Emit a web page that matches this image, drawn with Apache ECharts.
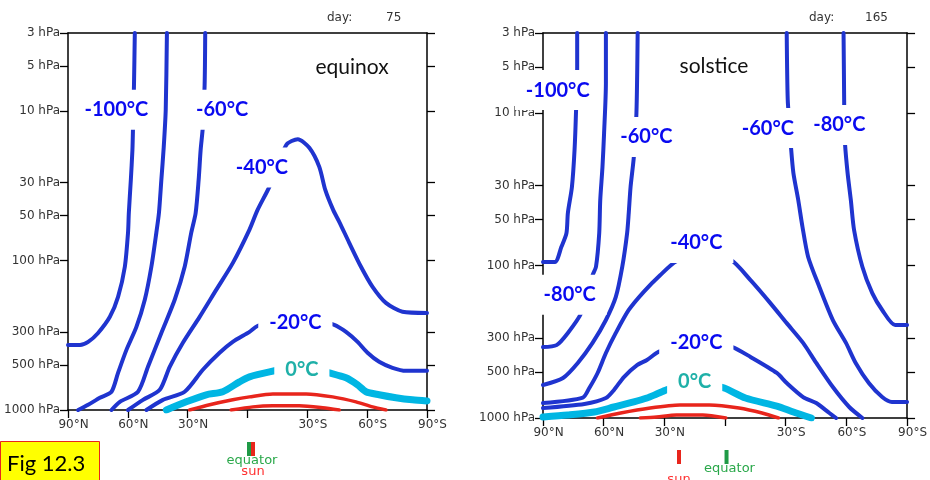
<!DOCTYPE html>
<html><head><meta charset="utf-8">
<script src="https://cdn.jsdelivr.net/npm/echarts@6/dist/echarts.min.js"></script>
<style>html,body{margin:0;padding:0;background:#fff}#c{width:930px;height:480px}</style>
</head><body><div id="c"></div>
<script>
// ---------- tick values ----------
const latTicks = [90, 60, 30, 0, -30, -60, -90];
const pTicks = [3, 5, 10, 30, 50, 100, 300, 500, 1000];

// ---------- EQUINOX (day 75) : [latitude (°N +), pressure hPa] ----------
const eqDay = 75;
const eqSunLat = 0;
const eqM100 = [[56.5,3],[56.9,6.5],[57.4,12.8],[57.7,18.2],[58.5,28.9],[59.5,48],[59.9,65],[61.5,110],[64.9,175],[69,238],[74.9,305],[79.9,350],[84,367],[90,367]];
const eqM80 = [[40.4,3],[41,9.8],[42,17.4],[43.2,28.9],[44.4,48],[45.7,65],[48.2,110],[51.5,183],[55.7,278],[60.7,396],[64.9,564],[68.2,755],[74,828],[79.9,923],[84.9,1000]];
const eqM60 = [[21.2,3],[21.5,6.7],[22.4,12.8],[23.5,18.2],[24.5,28.9],[26,48],[28.2,65],[31.5,110],[36.5,183],[43.2,305],[49.9,514],[54.9,755],[64,882],[68.2,1000]];
const eqM40 = [[59.9,1000],[52.4,855],[44,733],[39,514],[32.4,355],[24,238],[15.7,157],[7.4,104],[-1,62],[-5,46],[-11,32],[-19.5,16.8],[-25.2,15.4],[-31,17.6],[-36,23.6],[-39,33.7],[-43,46],[-46,55],[-51,76],[-56.9,110],[-62.7,150],[-69.4,192],[-77.7,220],[-90,224]];
const eqM20 = [[50.7,1000],[42.4,855],[31.5,755],[22.4,538],[14,414],[7.4,350],[-1,300],[-5,274],[-15,250],[-24,242],[-33,250],[-43.5,269],[-49.4,300],[-55.2,350],[-60.2,414],[-66,476],[-72.7,522],[-79.4,547],[-90,547]];
const eqZero = [[40.7,1000],[30.7,882],[20.7,791],[12.4,755],[4,648],[-1,600],[-11,556],[-20,530],[-27,525],[-34,535],[-41,564],[-49.4,609],[-55.2,679],[-59.4,755],[-66,791],[-74.4,828],[-82.7,855],[-90,869]];
const eqRedOuter = [[29,1000],[19,923],[7.4,855],[-1,817],[-12.7,780],[-29.4,780],[-42.7,817],[-54.4,882],[-62.7,953],[-69.4,1000]];
const eqRedInner = [[8.2,1000],[-2.7,953],[-12.7,938],[-26,938],[-37.7,966],[-46,1000]];
const eqLabelNames = ['-100°C', '-60°C', '-40°C', '-20°C', '0°C'];
const eqLabelPos = [[65.75,9.8],[12.75,9.8],[-7.25,23.8],[-24,259],[-27.25,534]];

// ---------- SOLSTICE (day 165) ----------
const soDay = 165;
const soSunLat = 23.5;
const soM100 = [[73.1,3],[73.1,5],[73.6,9.2],[74.4,17.5],[75.7,30.6],[77.7,45.3],[78.4,61.4],[80.9,75.6],[84.1,95],[90,95]];
const soM80N = [[58.9,3],[58.9,6.4],[59.8,13.6],[60.6,22.7],[61.7,37.3],[62.2,61.4],[63.8,102],[65.5,116],[71.1,205],[77.7,277],[83.3,333],[90,343]];
const soM60N = [[43.2,3],[43.8,10],[45.1,19.5],[46.7,30.6],[47.6,45.3],[48.4,61.4],[50.8,102],[54,161],[58.9,228],[65.5,322],[72.8,436],[80.1,547],[90,608]];
const soM40 = [[90,798],[70.3,735],[67.1,636],[63,507],[58.9,375],[54,277],[47.6,196],[40.2,149],[32.1,116],[24,94],[11,84],[-2.8,92],[-12.6,125],[-22.3,176],[-30.5,239],[-38.6,322],[-45.1,436],[-53.3,627],[-61.4,847],[-67.9,1000]];
const soM20 = [[90,860],[69.5,809],[58.9,740],[54.9,655],[50,539],[43.5,450],[38.6,417],[32.9,369],[22,335],[14,326],[4,332],[-3.7,343],[-12.6,398],[-25.6,507],[-30.5,590],[-38.6,729],[-45.1,798],[-51.6,927],[-54.9,1000]];
const soZero = [[90,984],[77.8,956],[64.6,914],[54.9,847],[45.1,785],[38.6,740],[33.8,697],[28.9,655],[21,615],[14,605],[7,612],[0.4,636],[-10.1,740],[-25.6,835],[-33.8,914],[-42.7,1000]];
const soRedOuter = [[63,1000],[51.6,927],[37,860],[22.3,822],[7.7,822],[-6.9,860],[-18.3,927],[-26.4,1000]];
const soRedInner = [[41.9,1000],[33.8,984],[24,956],[11,956],[-0.4,1000]];
const soM60S = [[-30.5,3],[-31,8.2],[-32,12.5],[-32.6,16.7],[-33.8,24.8],[-36.2,37.3],[-38.3,56],[-41.1,88],[-46.7,139],[-53.3,228],[-59.8,322],[-64.6,436],[-71.1,590],[-77.7,729],[-82.5,785],[-90,785]];
const soM80S = [[-58.6,3],[-58.9,8.2],[-59,12],[-59.3,15.8],[-60.6,24.8],[-62.2,37.3],[-63.8,58.6],[-67.9,102],[-72.8,152],[-77.7,196],[-84.1,246],[-90,246]];
const soLabelNames = ['-100°C', '-60°C', '-60°C', '-80°C', '-40°C', '-80°C', '-20°C', '0°C'];
const soLabelPos = [[82.7,7.1],[38.9,14.4],[-21.2,12.6],[-56.5,12.0],[14.2,71.3],[76.8,156],[14.2,322],[15,578]];

// ---------- styles ----------
const BLUE = '#1f34cf', LABEL_BLUE = '#0a0af0', CYAN = '#00b6e3', TEAL = '#1fb0a8', RED = '#e8251c', GREEN = '#1f9a46';
const AXIS_FONT = 'DejaVu Sans';

const toXY = arr => arr.map(d => [d[0], Math.log10(d[1])]);
const logTicks = pTicks.map(p => Math.log10(p));

function xAxesFor(gi) {
  return [
    { type: 'value', gridIndex: gi, min: -90, max: 90, interval: 30, inverse: true, position: 'bottom',
      axisLine: { show: true, onZero: false, lineStyle: { color: '#000', width: 1.5 } },
      axisTick: { show: true, length: 8, lineStyle: { color: '#000', width: 1.3 } },
      axisLabel: { show: true, margin: 9, fontFamily: AXIS_FONT, fontSize: 12, color: '#333', padding: [0, 0, 0, 11],
        formatter: v => v === 0 ? '' : Math.abs(v) + '°' + (v > 0 ? 'N' : 'S') },
      splitLine: { show: false } },
    { type: 'value', gridIndex: gi, min: -90, max: 90, inverse: true, position: 'top',
      axisLine: { show: true, onZero: false, lineStyle: { color: '#000', width: 1.5 } },
      axisTick: { show: false }, axisLabel: { show: false }, splitLine: { show: false } }
  ];
}
function yAxesFor(gi) {
  return [
    { type: 'value', gridIndex: gi, min: Math.log10(3), max: 3, inverse: true, position: 'left',
      axisLine: { show: true, onZero: false, lineStyle: { color: '#000', width: 1.5 } },
      axisTick: { show: true, length: 8, customValues: logTicks, lineStyle: { color: '#000', width: 1.3 } },
      axisLabel: { show: true, customValues: logTicks, margin: 8, fontFamily: AXIS_FONT, fontSize: 12, color: '#333',
        formatter: v => Math.round(Math.pow(10, v)) + ' hPa' },
      splitLine: { show: false } },
    { type: 'value', gridIndex: gi, min: Math.log10(3), max: 3, inverse: true, position: 'right',
      axisLine: { show: true, onZero: false, lineStyle: { color: '#000', width: 1.5 } },
      axisTick: { show: true, length: 8, customValues: logTicks, lineStyle: { color: '#000', width: 1.3 } },
      axisLabel: { show: false }, splitLine: { show: false } }
  ];
}

function line(gi, data, color, width) {
  return { type: 'line', xAxisIndex: gi * 2, yAxisIndex: gi * 2, data: toXY(data), symbol: 'none',
    smooth: 0.25, lineStyle: { color: color, width: width, cap: 'round', join: 'round' }, z: 3, silent: true, animation: false };
}
function labels(gi, names, pos) {
  return { type: 'scatter', xAxisIndex: gi * 2, yAxisIndex: gi * 2, symbolSize: 1, silent: true, animation: false, z: 20,
    itemStyle: { color: 'rgba(255,255,255,0)', opacity: 1 },
    data: names.map((n, i) => ({ name: n, value: [pos[i][0], Math.log10(pos[i][1])],
      label: { color: n === '0°C' ? TEAL : LABEL_BLUE } })),
    label: { show: true, position: 'inside', formatter: '{b}', fontFamily: 'Lato', fontWeight: 'bold', fontSize: 20,
      lineHeight: 20, backgroundColor: '#fff', padding: [10, 11], opacity: 1 } };
}

const series = [
  line(0, eqM100, BLUE, 4), line(0, eqM80, BLUE, 4), line(0, eqM60, BLUE, 4), line(0, eqM40, BLUE, 4), line(0, eqM20, BLUE, 4),
  line(0, eqZero, CYAN, 7), line(0, eqRedOuter, RED, 3.5), line(0, eqRedInner, RED, 3.5),
  labels(0, eqLabelNames, eqLabelPos),
  line(1, soM100, BLUE, 4), line(1, soM80N, BLUE, 4), line(1, soM60N, BLUE, 4), line(1, soM40, BLUE, 4), line(1, soM20, BLUE, 4),
  line(1, soM60S, BLUE, 4), line(1, soM80S, BLUE, 4),
  line(1, soZero, CYAN, 7), line(1, soRedOuter, RED, 3.5), line(1, soRedInner, RED, 3.5),
  labels(1, soLabelNames, soLabelPos)
];

const chart = echarts.init(document.getElementById('c'), null, { renderer: 'canvas' });
const txt = (x, y, s, o) => Object.assign({ type: 'text', x: x, y: y, silent: true,
  style: Object.assign({ text: s, fontFamily: AXIS_FONT, fontSize: 12, fill: '#333', verticalAlign: 'middle' }, o || {}) });

chart.setOption({
  animation: false,
  backgroundColor: '#fff',
  grid: [
    { left: 68, top: 33, width: 359, height: 377 },
    { left: 543, top: 33, width: 369, height: 385 }
  ],
  xAxis: [...xAxesFor(0), ...xAxesFor(1)],
  yAxis: [...yAxesFor(0), ...yAxesFor(1)],
  series: series
});

// ---------- annotations ----------
const g = [];
g.push(txt(327, 18, 'day:'), txt(386, 18, String(eqDay)), txt(809, 18, 'day:'), txt(865, 18, String(soDay)));
g.push(txt(352, 67, 'equinox', { fontFamily: 'Lato', fontSize: 21, fill: '#111', align: 'center' }));
g.push(txt(714, 66, 'solstice', { fontFamily: 'Lato', fontSize: 21, fill: '#111', align: 'center' }));
g.push({ type: 'rect', shape: { x: 0.5, y: 441.5, width: 99, height: 42 }, style: { fill: '#ffff00', stroke: '#e8251c', lineWidth: 1 }, silent: true });
g.push(txt(7, 464, 'Fig 12.3', { fontFamily: 'Lato', fontSize: 22, fill: '#000' }));

[[0, eqSunLat], [1, soSunLat]].forEach(([gi, sunLat]) => {
  const eq = chart.convertToPixel({ gridIndex: gi }, [0, 3]);
  const sn = chart.convertToPixel({ gridIndex: gi }, [sunLat, 3]);
  const y0 = eq[1];
  const gx = eq[0] - 0.5;
  const rx = sn[0] - 0.5 + (sunLat === 0 ? 4 : 0);
  g.push({ type: 'rect', shape: { x: gx, y: y0 + 32, width: 4, height: 14 }, style: { fill: GREEN }, silent: true });
  g.push({ type: 'rect', shape: { x: rx, y: y0 + 32, width: 4, height: 14 }, style: { fill: RED }, silent: true });
  g.push(txt(gx + 5, y0 + 51, 'equator', { fill: '#2aa84a', align: 'center', fontSize: 13 }));
  g.push(txt(rx + 2, y0 + 62, 'sun', { fill: '#ff3030', align: 'center', fontSize: 13 }));
});
chart.setOption({ graphic: g });
</script></body></html>
